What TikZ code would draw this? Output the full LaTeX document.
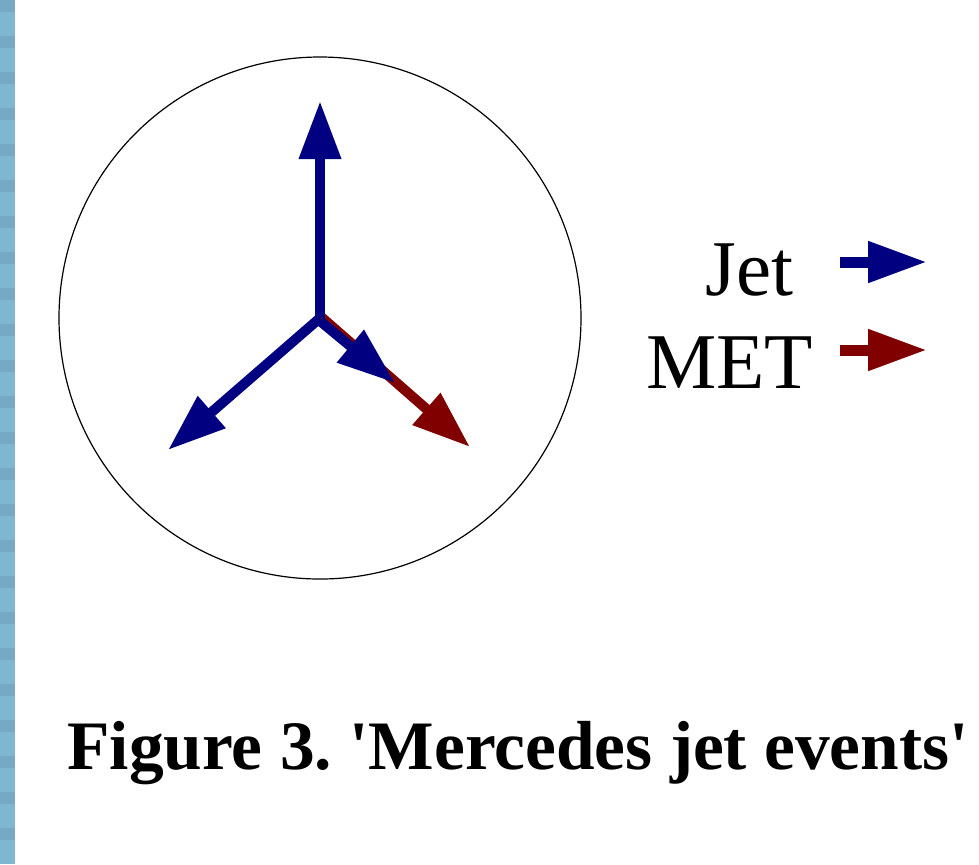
\documentclass[tikz,border=0pt]{standalone}
\usepackage{fontspec}
\setmainfont{Liberation Serif}
\usetikzlibrary{arrows.meta}
\definecolor{jetblue}{RGB}{0,0,128}
\definecolor{metred}{RGB}{128,0,0}
\definecolor{stripA}{RGB}{128,183,208}
\definecolor{stripB}{RGB}{118,170,196}
\frenchspacing
\tikzset{
  vec/.style={line width=5pt,-{Triangle[length=29pt,width=20pt]}},
  jetvec/.style={vec,jetblue},
  metvec/.style={vec,metred},
  legtext/.style={inner sep=0pt,anchor=base west,font=\fontsize{39.5}{40}\selectfont}
}
\begin{document}
\begin{tikzpicture}[x=0.5pt,y=-0.5pt]
 \useasboundingbox (0,0) rectangle (979,864);
 \fill[white] (0,0) rectangle (979,864);
 % textured strip on the left
 \foreach \k in {0,...,71} {
   \pgfmathtruncatemacro{\m}{mod(\k*7,3)}
   \ifnum\m=0 \fill[stripB] (0,\k*12) rectangle (15,\k*12+12);
   \else \fill[stripA] (0,\k*12) rectangle (15,\k*12+12); \fi
 }
 % event display
 \coordinate (o) at (320,318);
 \draw[line width=0.6pt] (o) circle[radius=261];
 \coordinate (up) at (320,101);
 \coordinate (ll) at (168,450);
 \coordinate (met) at (470,447);
 \coordinate (lr) at (395,383);
 \draw[metvec] (319,315) -- (met);
 \draw[jetvec] (o) -- (up);
 \draw[jetvec] (o) -- (ll);
 \draw[jetvec] (320,321) -- (lr);
 % legend
 \node[legtext] (jettxt) at (705,295) {Jet};
 \node[legtext] (mettxt) at (646,388) {MET};
 \coordinate (j0) at (840,262); \coordinate (j1) at (927,262);
 \coordinate (m0) at (840,350); \coordinate (m1) at (927,350);
 \draw[jetvec,line width=5.5pt,-{Triangle[length=29.5pt,width=19.5pt]}] (j0) -- (j1);
 \draw[metvec,line width=5.5pt,-{Triangle[length=29.5pt,width=19.5pt]}] (m0) -- (m1);
 % caption
 \node[inner sep=0pt,anchor=base west,font=\fontsize{34.7}{35}\selectfont\bfseries] (cap) at (67,769)
   {Figure 3. \textquotesingle Mercedes jet events\textquotesingle};
\end{tikzpicture}
\end{document}
